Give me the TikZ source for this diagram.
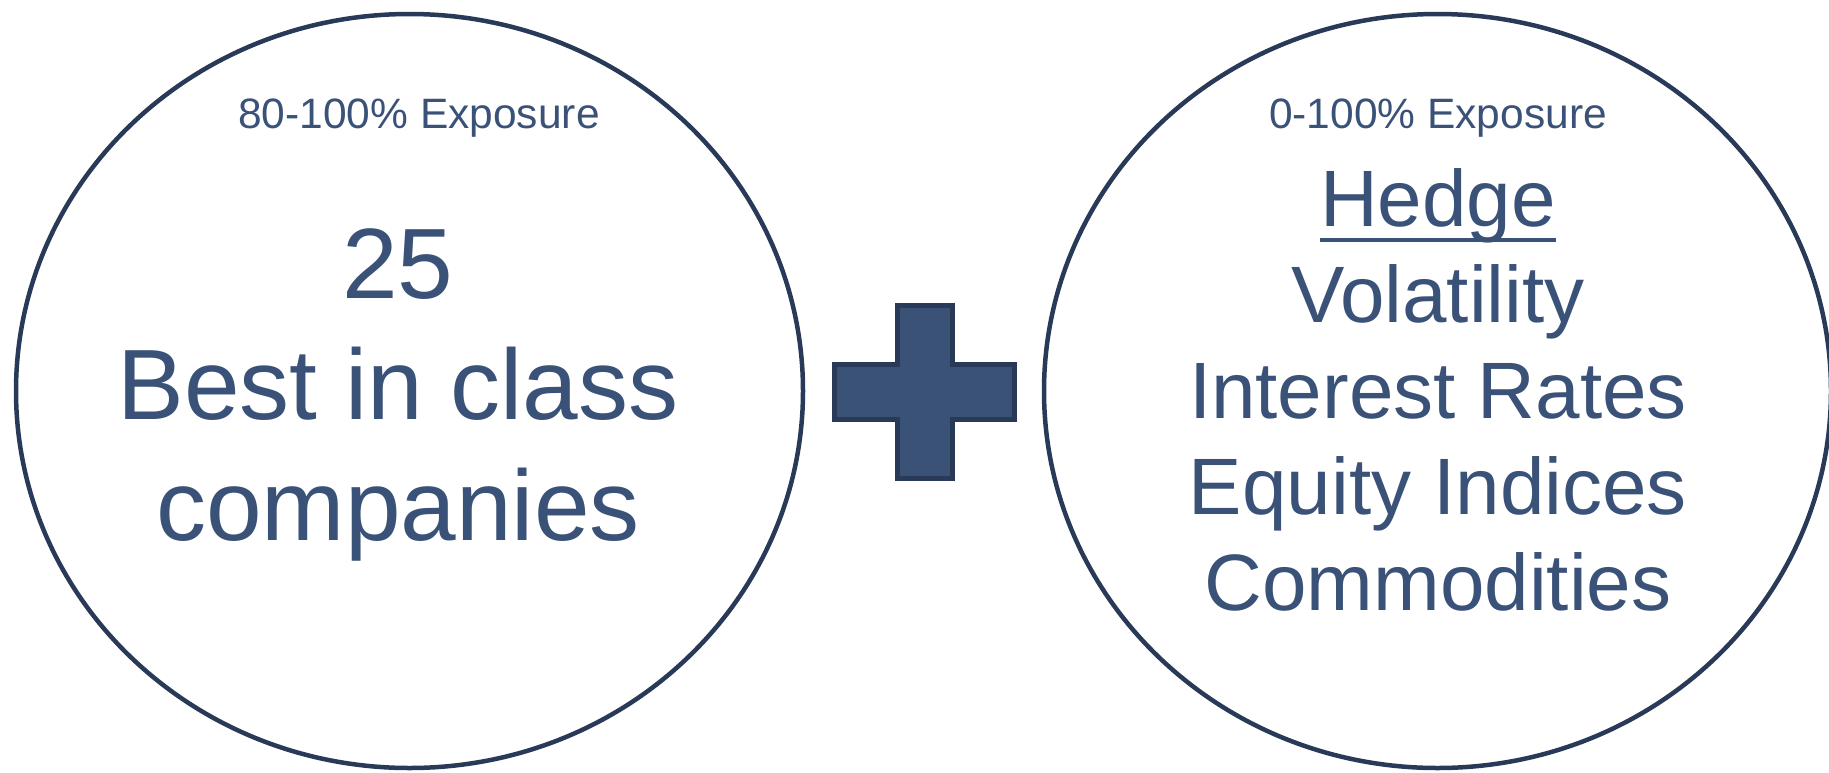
\documentclass[tikz,border=0pt]{standalone}
\usepackage{xcolor}
\usepackage{fontspec}
\setmainfont{Liberation Sans}
\usepackage{tikz}
\usetikzlibrary{shapes.geometric,positioning}

\definecolor{slatetext}{HTML}{3A5278}
\definecolor{slateline}{HTML}{283A58}
\definecolor{slatefill}{HTML}{3A5276}

% underline set close under the baseline
\newcommand{\ulword}[1]{\begingroup\setbox0\hbox{#1}\rlap{\rule[-0.2em]{\wd0}{0.05em}}\box0\endgroup}

\begin{document}
\begin{tikzpicture}[x=1pt, y=-1pt,
    bubble/.style={draw=slateline, line width=4.5pt, ellipse, inner sep=0pt, minimum width=787pt, minimum height=754pt},
    exposure/.style={text=slatetext, anchor=base, font=\fontsize{42.5}{51}\selectfont},
    bigtext/.style={text=slatetext, align=center, anchor=base, font=\fontsize{100}{121}\selectfont},
    hedgetext/.style={text=slatetext, align=center, anchor=base, font=\fontsize{80}{96}\selectfont},
    plusmark/.style={fill=slatefill, draw=slateline, line width=5pt}
]

  \useasboundingbox (0,0) rectangle (1829,772);

  % Two circles
  \node[bubble] (stocks) at (409.5,391) {};
  \node[bubble] (hedges) at (1437.5,391) {};

  % Left circle: stock book (base = last line)
  \node[exposure] (stocks_exp) at (419,128) {80-100\% Exposure};
  \node[bigtext] (stocks_txt) at (398,540) {25\\Best in class\\companies};

  % Right circle: hedge book
  \node[exposure] (hedges_exp) at (1438,128) {0-100\% Exposure};
  \node[hedgetext] (hedges_txt) at (1438,610) {\ulword{Hedge}\\Volatility\\Interest Rates\\Equity Indices\\Commodities};

  % Plus sign between them
  \coordinate (plus) at (925,392);
  \draw[plusmark] (897.5,305.5) -- (952.5,305.5) -- (952.5,364.5) -- (1014.5,364.5)
    -- (1014.5,419.5) -- (952.5,419.5) -- (952.5,478.5) -- (897.5,478.5)
    -- (897.5,419.5) -- (834.5,419.5) -- (834.5,364.5) -- (897.5,364.5) -- cycle;

\end{tikzpicture}
\end{document}
